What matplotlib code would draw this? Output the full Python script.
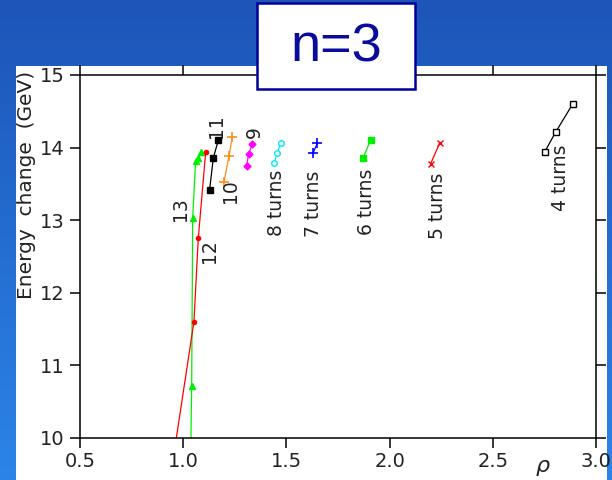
import numpy as np
import matplotlib
matplotlib.use("Agg")
from matplotlib import pyplot as plt
from matplotlib.patches import Rectangle

plt.rcParams['font.family'] = ['DejaVu Sans']

# series: (x = rho, y = energy change in GeV)
x13 = [1.035, 1.041, 1.046, 1.060, 1.072, 1.084]
y13 = [9.5, 10.71, 13.03, 13.81, 13.86, 13.94]
x12 = [0.94, 1.052, 1.073, 1.109]
y12 = [9.5, 11.60, 12.75, 13.94]
x11 = [1.128, 1.146, 1.170]
y11 = [13.42, 13.86, 14.10]
x10 = [1.198, 1.222, 1.238]
y10 = [13.53, 13.89, 14.15]
x9 = [1.307, 1.317, 1.335]
y9 = [13.75, 13.91, 14.05]
x8 = [1.441, 1.456, 1.472]
y8 = [13.79, 13.93, 14.07]
x7 = [1.630, 1.650]
y7 = [13.93, 14.06]
x6 = [1.870, 1.908]
y6 = [13.85, 14.10]
x5 = [2.199, 2.244]
y5 = [13.78, 14.07]
x4 = [2.751, 2.806, 2.887]
y4 = [13.94, 14.22, 14.60]

labels = ["13", "12", "11", "10", "9", "8 turns", "7 turns",
          "6 turns", "5 turns", "4 turns"]
label_x = [0.985, 1.126, 1.162, 1.227, 1.343, 1.450, 1.630, 1.889, 2.231, 2.829]
label_y = [13.15, 12.58, 14.29, 13.40, 14.22, 13.24, 13.22, 13.26, 13.20, 13.58]

fig = plt.figure(figsize=(6.12, 4.8), dpi=100)

# background gradient + white panel
ax_bg = fig.add_axes([0, 0, 1, 1], zorder=-2)
top_c = np.array([29, 85, 184]) / 255
bot_c = np.array([44, 132, 232]) / 255
t = np.linspace(0, 1, 256)[:, None]
grad = top_c[None, :] * (1 - t) + bot_c[None, :] * t
ax_bg.imshow(grad[:, None, :], aspect='auto', extent=[0, 1, 0, 1])
ax_bg.add_patch(Rectangle((16 / 612, 0), (607 - 16) / 612, (480 - 66) / 480,
                          facecolor='white', edgecolor='none'))
ax_bg.set_xlim(0, 1)
ax_bg.set_ylim(0, 1)
ax_bg.axis('off')

ax = fig.add_axes([80 / 612, 42 / 480, 516 / 612, 363 / 480])
ax.set_facecolor('none')

lw = 0.9
ax.plot(x13, y13, color='#00ee00', lw=lw, marker='^', ms=4)
ax.plot(x12, y12, color='#ff0000', lw=lw, marker='o', ms=3)
ax.plot(x11, y11, color='black', lw=lw, marker='s', ms=5)
ax.plot(x10, y10, color='#ff8c1a', lw=lw, marker='+', ms=7, mew=1.2)
ax.plot(x9, y9, color='#ff00ff', lw=lw, marker='D', ms=3.5)
ax.plot(x8, y8, color='#00e5ff', lw=lw, marker='o', ms=4, mfc='white')
ax.plot(x7, y7, color='#0000ff', lw=lw, marker='+', ms=7, mew=1.2)
ax.plot(x6, y6, color='#00ee00', lw=lw, marker='s', ms=5)
ax.plot(x5, y5, color='#ff0000', lw=lw, marker='x', ms=4.5)
ax.plot(x4, y4, color='black', lw=lw, marker='s', ms=5, mfc='white')

for lab, lx, ly in zip(labels, label_x, label_y):
    ax.text(lx, ly, lab, rotation=90, ha='center', va='center',
            fontsize=13.5, color='#222222')

ax.set_xlim(0.5, 3.0)
ax.set_ylim(10, 15)
ax.set_xticks([0.5, 1.0, 1.5, 2.0, 2.5, 3.0])
ax.set_xticklabels(["0.5", "1.0", "1.5", "2.0", "2.5", "3.0"])
ax.set_yticks([10, 11, 12, 13, 14, 15])
ax.tick_params(direction='out', length=7, width=1.1, top=True, right=True,
               labelsize=14, pad=3, labelcolor='#222222')
ax.tick_params(axis='y', pad=4)
for s in ax.spines.values():
    s.set_linewidth(1.1)

fig.text(27 / 612, 1 - 185 / 480, "Energy  change  (GeV)", rotation=90,
         ha='center', va='center', fontsize=14.5, color='#222222')
fig.text(543 / 612, 1 - 466 / 480, "ρ", fontstyle='italic',
         ha='center', va='center', fontsize=16, color='#222222')

# title box
fig.patches.append(Rectangle((257 / 612, 1 - 89 / 480), 158 / 612, 86 / 480,
                             transform=fig.transFigure, facecolor='white',
                             edgecolor='#000099', linewidth=1.8, zorder=5))
fig.text(336 / 612, 1 - 47 / 480, "n=3", color='#0a0a9c', fontsize=39,
         family='Liberation Sans', ha='center', va='center', zorder=6)

fig.savefig("out.png", dpi=100)
